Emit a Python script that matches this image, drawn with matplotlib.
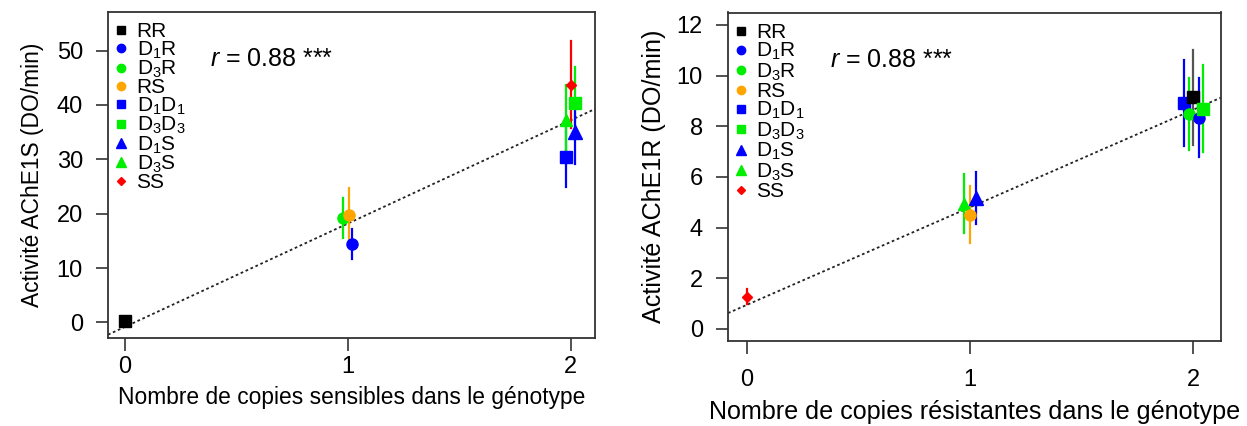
import numpy as np
import matplotlib
matplotlib.use("Agg")
import matplotlib.pyplot as plt
from matplotlib.lines import Line2D

plt.rcParams["font.family"] = ["Liberation Sans", "DejaVu Sans"]
plt.rcParams["mathtext.fontset"] = "custom"
plt.rcParams["mathtext.rm"] = "Liberation Sans"
plt.rcParams["mathtext.it"] = "Liberation Sans:italic"
plt.rcParams["mathtext.default"] = "regular"

# genotypes, in legend order
genotypes = ["RR", "D$_1$R", "D$_3$R", "RS", "D$_1$D$_1$", "D$_3$D$_3$", "D$_1$S", "D$_3$S", "SS"]
n_sens = [0, 1, 1, 1, 2, 2, 2, 2, 2]
n_res = [2, 2, 2, 1, 2, 2, 1, 1, 0]

# AChE1S activity (DO/min), mean and error
ache1s_mean = [0.3, 14.4, 19.2, 19.8, 30.4, 40.4, 35.0, 37.3, 43.7]
ache1s_err = [0.0, 2.8, 3.6, 5.0, 5.4, 6.5, 5.8, 6.3, 8.0]
# AChE1R activity (DO/min)
ache1r_mean = [9.14, 8.34, 8.48, 4.51, 8.91, 8.70, 5.17, 4.95, 1.27]
ache1r_err = [1.88, 1.57, 1.43, 1.13, 1.70, 1.72, 1.02, 1.15, 0.30]

# regression lines (intercept, slope) and correlation
fit_s = (-0.8, 19.0)
fit_r = (0.95, 3.85)
r_txt = r"$\mathit{r}$ = 0.88 ***"

# plotting style
colors = ["black", "blue", "#00ee00", "orange", "blue", "#00ee00", "blue", "#00ee00", "red"]
bar_colors = ["#555555", "blue", "#00ee00", "orange", "blue", "#00ee00", "blue", "#00ee00", "red"]
markers = ["s", "o", "o", "o", "s", "s", "^", "^", "D"]
msize = [8, 8, 8, 8, 8, 8, 10, 9, 5]
jit_s = [0, 0.02, -0.02, 0.005, -0.02, 0.02, 0.02, -0.02, 0.0]
jit_r = [0, 0.025, -0.017, 0.0, -0.04, 0.046, 0.025, -0.025, 0.0]

fig = plt.figure(figsize=(12.47, 4.26), dpi=100)
ax1 = fig.add_axes([108 / 1247, 1 - 338 / 426, 487 / 1247, 326 / 426])
ax2 = fig.add_axes([728 / 1247, 1 - 341 / 426, 493 / 1247, 328.5 / 426])


def panel(ax, xs, jit, mean, err, fit, xlim, ylim, yticks, ylabel, xlabel,
          lab_fs, xpad, xlab_pad, ylab_pad, legsp, order):
    ax.axline((0, fit[0]), slope=fit[1], color="#222222", lw=1.3, ls=(0, (1.5, 1.5)), zorder=1)
    for i in order:
        x = xs[i] + jit[i]
        if err[i] > 0:
            ax.plot([x, x], [mean[i] - err[i], mean[i] + err[i]], color=bar_colors[i], lw=1.6, zorder=2)
        ax.plot(x, mean[i], marker=markers[i], ms=msize[i], color=colors[i], mec=colors[i], ls="none", zorder=3)
    ax.set_xlim(*xlim)
    ax.set_ylim(*ylim)
    ax.set_xticks([0, 1, 2])
    ax.set_yticks(yticks)
    ax.tick_params(length=9, width=1.2, labelsize=17, color="#333333", pad=9)
    ax.tick_params(axis="x", pad=xpad)
    for s in ax.spines.values():
        s.set_linewidth(1.3)
        s.set_color("#333333")
    ax.set_ylabel(ylabel, fontsize=lab_fs, labelpad=ylab_pad)
    ax.set_xlabel(xlabel, fontsize=lab_fs, labelpad=xlab_pad)
    handles = [Line2D([], [], marker=markers[i], color=colors[i], ls="none",
                      ms=msize[i] * 0.75) for i in range(len(genotypes))]
    ax.legend(handles, genotypes, loc="upper left", frameon=False, fontsize=15,
              handlelength=0.8, handletextpad=0.35, labelspacing=legsp,
              borderaxespad=0.1, bbox_to_anchor=(-0.012, 1.0))


panel(ax1, n_sens, jit_s, ache1s_mean, ache1s_err, fit_s, (-0.076, 2.108), (-2.85, 57.08),
      range(0, 51, 10), "Activité AChE1S (DO/min)",
      "Nombre de copies sensibles dans le génotype", 16.4, 4, 6, 9, -0.09,
      [0, 2, 3, 1, 4, 7, 8, 5, 6])
panel(ax2, n_res, jit_r, ache1r_mean, ache1r_err, fit_r, (-0.084, 2.125), (-0.474, 12.49),
      range(0, 13, 2), "Activité AChE1R (DO/min)",
      "Nombre de copies résistantes dans le génotype", 18.1, 11, 7, 8, -0.04,
      [8, 7, 3, 6, 4, 2, 0, 1, 5])

ax1.text(0.21, 0.855, r_txt, transform=ax1.transAxes, fontsize=18, va="center")
ax2.text(0.206, 0.855, r_txt, transform=ax2.transAxes, fontsize=18, va="center")

fig.savefig("out.png", dpi=100)
